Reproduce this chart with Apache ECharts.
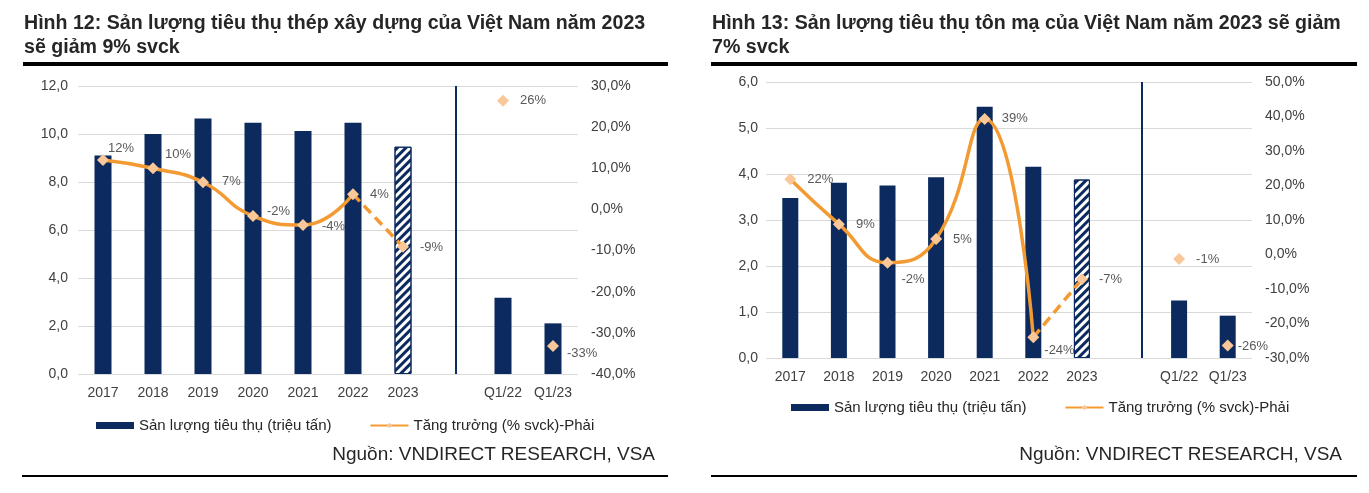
<!DOCTYPE html>
<html><head><meta charset="utf-8">
<script src="https://cdn.jsdelivr.net/npm/echarts@6/dist/echarts.min.js"></script>
<style>
html,body{margin:0;padding:0;background:#fff;width:1369px;height:493px;overflow:hidden;font-family:"Liberation Sans",Arial,sans-serif;}
#chart{position:absolute;left:0;top:0;width:1369px;height:493px;}
.title{position:absolute;font-weight:bold;font-size:19.6px;line-height:24px;color:#262626;white-space:nowrap;}
.rule{position:absolute;background:#000;}
.src{position:absolute;font-size:19px;color:#262626;white-space:nowrap;text-align:right;width:400px;}
</style></head><body>
<div id="chart"></div>
<div class="title" style="left:24px;top:10px">Hình 12: Sản lượng tiêu thụ thép xây dựng của Việt Nam năm 2023<br>sẽ giảm 9% svck</div>
<div class="title" style="left:712px;top:10px">Hình 13: Sản lượng tiêu thụ tôn mạ của Việt Nam năm 2023 sẽ giảm<br>7% svck</div>
<div class="rule" style="left:23px;top:62px;width:645px;height:4px"></div>
<div class="rule" style="left:711px;top:62px;width:646px;height:4px"></div>
<div class="rule" style="left:22px;top:475px;width:646px;height:2px"></div>
<div class="rule" style="left:711px;top:475px;width:646px;height:2px"></div>
<div class="src" style="left:255px;top:443px">Nguồn: VNDIRECT RESEARCH, VSA</div>
<div class="src" style="left:942px;top:443px">Nguồn: VNDIRECT RESEARCH, VSA</div>
<script>
// ---- data ----
const categories = ['2017','2018','2019','2020','2021','2022','2023','','Q1/22','Q1/23'];
const steelVolume = [9.1, 10.0, 10.65, 10.47, 10.12, 10.47, 9.47, null, 3.18, 2.11];
const steelGrowth = [12, 10, 6.6, -1.6, -3.8, 3.7, -9.1, null, 26.4, -33.2];
const galvVolume  = [3.48, 3.81, 3.75, 3.93, 5.46, 4.16, 3.88, null, 1.25, 0.92];
const galvGrowth  = [21.8, 8.8, -2.4, 4.5, 39.3, -24.0, -7.2, null, -1.3, -26.4];
const steelLeftTicks  = [0, 2, 4, 6, 8, 10, 12];
const steelRightTicks = [-40, -30, -20, -10, 0, 10, 20, 30];
const galvLeftTicks   = [0, 1, 2, 3, 4, 5, 6];
const galvRightTicks  = [-30, -20, -10, 0, 10, 20, 30, 40, 50];
const volumeName = 'Sản lượng tiêu thụ (triệu tấn)';
const growthName = 'Tăng trưởng (% svck)-Phải';
const forecastIndex = 6;   // 2023 forecast (hatched bar, dashed line)
const lastActualIndex = 5; // 2022

// ---- styles ----
const NAVY = '#0C2A5E', ORANGE = '#F39B32', MARK = '#FAC898', LBL = '#595959', AX = '#404040';
const FONT = '"Liberation Sans", Arial, sans-serif';
const steelNudge = [[-12,-12],[-5,-14],[2,-1],[-3,-5],[2,1],[0,0],[0,1],null,[0,0],[-3,7]];
const galvNudge  = [[0,0],[0,0],[-3,17],[0,0],[0,0],[-6,13],[0,0],null,[0,0],[-7,1]];

const fmtNum = v => v.toFixed(1).replace('.', ',');
const fmtPct = v => v.toFixed(1).replace('.', ',') + '%';

function panel(g, vol, gr, nudge, lt, rt, sepPos) {
  const xa = g, xv = g + 2, yl = g * 2, yr = g * 2 + 1;
  const lbl = (i) => ({ offset: nudge[i] || [0, 0] });
  const labelBase = { show: true, position: 'right', distance: 11, color: LBL, fontSize: 13, fontFamily: FONT,
    formatter: p => Math.round(p.value) + '%' };
  const hatched = { color: '#ffffff', borderColor: NAVY, borderWidth: 1,
    decal: { symbol: 'rect', symbolSize: 1, color: NAVY, dashArrayX: [1, 0], dashArrayY: [3, 3], rotation: -Math.PI / 4 } };
  return {
    xAxes: [
      { gridIndex: g, type: 'category', data: categories, axisLine: { show: false }, axisTick: { show: false },
        axisLabel: { color: AX, fontSize: 14, fontFamily: FONT, margin: 12, interval: 0 } }
    ],
    xValAxis: { gridIndex: g, type: 'value', min: -0.5, max: categories.length - 0.5, show: false },
    yAxes: [
      { gridIndex: g, type: 'value', min: lt[0], max: lt[lt.length - 1], interval: lt[1] - lt[0],
        axisLine: { show: false }, axisTick: { show: false },
        axisLabel: { color: AX, fontSize: 14, fontFamily: FONT, margin: g ? 8 : 10, formatter: fmtNum },
        splitLine: { lineStyle: { color: '#D9D9D9', width: 1 } } },
      { gridIndex: g, type: 'value', position: 'right', min: rt[0], max: rt[rt.length - 1], interval: rt[1] - rt[0],
        axisLine: { show: false }, axisTick: { show: false }, splitLine: { show: false },
        axisLabel: { color: AX, fontSize: 14, fontFamily: FONT, margin: 13, formatter: fmtPct } }
    ],
    series: [
      { name: volumeName, type: 'bar', xAxisIndex: xa, yAxisIndex: yl, barWidth: g ? 16 : 17,
        itemStyle: { color: NAVY },
        data: vol.map((v, i) => v == null ? null : (i === forecastIndex ? { value: v, itemStyle: hatched } : v)) },
      { name: growthName, type: 'line', xAxisIndex: xa, yAxisIndex: yr, smooth: 0.5,
        symbol: 'diamond', symbolSize: 12, z: 3,
        itemStyle: { color: MARK, opacity: 1 }, lineStyle: { color: ORANGE, width: 3.5 },
        label: labelBase,
        data: gr.map((v, i) => (i <= lastActualIndex && v != null) ? { value: v, label: lbl(i) } : null) },
      { name: growthName + ' (dự báo)', type: 'line', xAxisIndex: xa, yAxisIndex: yr, smooth: 0.5,
        symbol: 'none', z: 2, lineStyle: { color: ORANGE, width: 3.5, type: [10, 6] },
        data: gr.map((v, i) => (i === lastActualIndex || i === forecastIndex) ? v : null) },
      { name: growthName + ' (điểm)', type: 'scatter', xAxisIndex: xa, yAxisIndex: yr,
        symbol: 'diamond', symbolSize: 12, z: 4, itemStyle: { color: MARK, opacity: 1 }, label: labelBase,
        data: gr.map((v, i) => (i >= forecastIndex && v != null) ? { value: v, label: lbl(i) } : null) },
      { type: 'scatter', xAxisIndex: xv, yAxisIndex: yl, symbolSize: 0, silent: true, data: [[sepPos, 0]],
        markLine: { symbol: 'none', silent: true, label: { show: false }, animation: false,
          lineStyle: { color: NAVY, width: 2, type: 'solid' }, data: [{ xAxis: sepPos }] } }
    ]
  };
}

const p0 = panel(0, steelVolume, steelGrowth, steelNudge, steelLeftTicks, steelRightTicks, 7.06);
const p1 = panel(1, galvVolume, galvGrowth, galvNudge, galvLeftTicks, galvRightTicks, 7.24);

const legendBase = { orient: 'horizontal', padding: 0, itemWidth: 38, itemHeight: 7, itemGap: 38,
  textStyle: { color: '#262626', fontSize: 15, fontFamily: FONT },
  data: [{ name: volumeName, icon: 'rect' }, { name: growthName }] };

const option = {
  animation: false,
  grid: [
    { left: 78, top: 86, width: 500, height: 288 },
    { left: 766, top: 82, width: 486, height: 276 }
  ],
  legend: [
    Object.assign({}, legendBase, { left: 96, top: 418 }),
    Object.assign({}, legendBase, { left: 791, top: 400 })
  ],
  xAxis: [p0.xAxes[0], p1.xAxes[0], p0.xValAxis, p1.xValAxis],
  yAxis: [...p0.yAxes, ...p1.yAxes],
  series: [...p0.series, ...p1.series]
};
const chart = echarts.init(document.getElementById('chart'), null, { renderer: 'canvas' });
chart.setOption(option);
</script>
</body></html>
